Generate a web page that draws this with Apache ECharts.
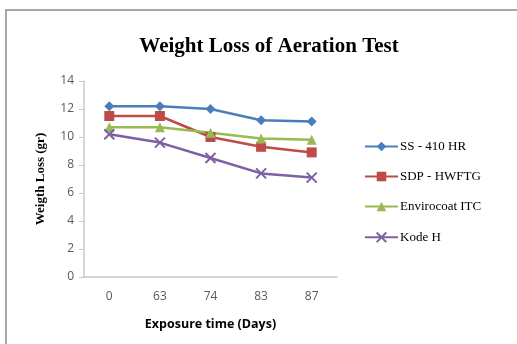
<!DOCTYPE html>
<html>
<head>
<meta charset="utf-8">
<script src="https://cdn.jsdelivr.net/npm/echarts@6/dist/echarts.min.js"></script>
<style>
  html, body { margin: 0; padding: 0; background: #fff; }
  #chart { width: 517px; height: 344px; }
</style>
</head>
<body>
<div id="chart"></div>
<script>
// Exposure time categories (days)
const days = ['0', '63', '74', '83', '87'];

// Weight loss (gr) per coating
const ss410hr = [12.2, 12.2, 12.0, 11.2, 11.1];
const sdpHwftg = [11.5, 11.5, 10.0, 9.3, 8.9];
const envirocoatItc = [10.7, 10.7, 10.3, 9.9, 9.8];
const kodeH = [10.2, 9.6, 8.5, 7.4, 7.1];

const seriesNames = ['SS - 410 HR', 'SDP - HWFTG', 'Envirocoat ITC', 'Kode H'];
const seriesData = [ss410hr, sdpHwftg, envirocoatItc, kodeH];
const seriesColors = ['#4a7ebb', '#be4b48', '#98b954', '#7d60a0'];
const seriesSymbols = ['diamond', 'rect', 'triangle',
  'path://M0,0 L2,2 M2,0 L0,2'];
const symbolSizes = [10, 10, 10, 10];

const chart = echarts.init(document.getElementById('chart'));

chart.setOption({
  animation: false,
  backgroundColor: '#ffffff',
  graphic: [{
    type: 'rect',
    shape: { x: 6, y: 10, width: 520, height: 340 },
    style: { fill: 'none', stroke: '#8c8c8c', lineWidth: 1.5 },
    silent: true
  }],
  title: {
    text: 'Weight Loss of Aeration Test',
    left: 264,
    top: 31,
    textAlign: 'center',
    textStyle: {
      fontFamily: 'Liberation Serif',
      fontWeight: 'bold',
      fontSize: 21,
      color: '#000'
    }
  },
  legend: {
    orient: 'vertical',
    left: 359,
    top: 135,
    itemGap: 17,
    itemWidth: 33,
    itemHeight: 12,
    data: seriesNames,
    textStyle: {
      fontFamily: 'Liberation Serif',
      fontSize: 13,
      color: '#000',
      padding: [0, 0, 0, -3]
    }
  },
  grid: {
    left: 84,
    right: 180,
    top: 81,
    bottom: 67
  },
  xAxis: {
    type: 'category',
    data: days,
    boundaryGap: true,
    name: 'Exposure time (Days)',
    nameLocation: 'middle',
    nameGap: 41,
    nameTextStyle: {
      fontFamily: 'Open Sans',
      fontWeight: 'bold',
      fontSize: 12.5,
      color: '#000'
    },
    axisLine: { lineStyle: { color: '#c8c8c8', width: 1.5 } },
    axisTick: { show: false },
    axisLabel: {
      fontFamily: 'Open Sans',
      fontSize: 12,
      color: '#595959',
      margin: 14
    },
    splitLine: { show: false }
  },
  yAxis: {
    type: 'value',
    min: 0,
    max: 14,
    interval: 2,
    name: 'Weigth Loss (gr)',
    nameLocation: 'middle',
    nameGap: 37,
    nameTextStyle: {
      fontFamily: 'Liberation Serif',
      fontWeight: 'bold',
      fontSize: 13,
      color: '#000'
    },
    axisLine: { show: true, lineStyle: { color: '#c8c8c8', width: 1.5 } },
    axisTick: { show: true, inside: false, length: 5, lineStyle: { color: '#c8c8c8' } },
    axisLabel: {
      fontFamily: 'Open Sans',
      fontSize: 12,
      color: '#595959',
      margin: 10
    },
    splitLine: { show: false }
  },
  series: seriesNames.map((name, i) => ({
    name: name,
    type: 'line',
    data: seriesData[i],
    symbol: seriesSymbols[i],
    symbolSize: symbolSizes[i],
    showAllSymbol: true,
    color: seriesColors[i],
    lineStyle: { width: 2.5, color: seriesColors[i] },
    itemStyle: i === 3
      ? { color: 'none', borderColor: seriesColors[i], borderWidth: 2 }
      : { color: seriesColors[i] }
  }))
});
</script>
</body>
</html>
